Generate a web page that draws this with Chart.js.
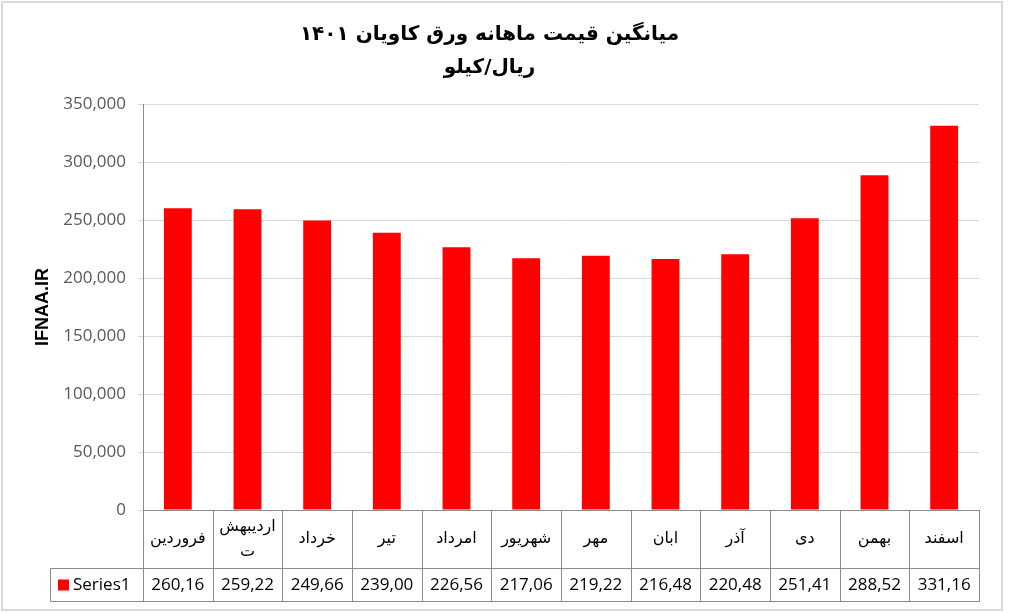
<!DOCTYPE html>
<html lang="fa">
<head>
  <meta charset="UTF-8" />
  <title>میانگین قیمت ماهانه ورق کاویان ۱۴۰۱</title>
  <style>
    html, body { margin: 0; padding: 0; background: #fff; }
    #priceChart { display: block; }
  </style>
  <script src="https://cdn.jsdelivr.net/npm/chart.js"></script>
</head>
<body>
  <canvas id="priceChart" width="1010" height="614"></canvas>

  <script>
    // ماه‌ها و قیمت (ریال/کیلو)
    const months = ['فروردین', 'اردیبهشت', 'خرداد', 'تیر', 'امرداد', 'شهریور', 'مهر', 'ابان', 'آذر', 'دی', 'بهمن', 'اسفند'];
    const prices = [260160, 259220, 249660, 239000, 226560, 217060, 219220, 216480, 220480, 251410, 288520, 331160];
    const seriesName = 'Series1';
    const yMax = 350000;
    const yStep = 50000;

    const fmt = v => Number(v).toLocaleString('en-US');
    // the data table cell is too narrow, so Excel cut the last digit off
    const cellText = v => fmt(v).slice(0, 6);

    const frame = {
      id: 'frame',
      beforeDraw(chart) {
        const ctx = chart.ctx;
        ctx.save();
        ctx.fillStyle = '#fff';
        ctx.fillRect(0, 0, chart.width, chart.height);
        ctx.strokeStyle = '#d9d9d9';
        ctx.lineWidth = 2;
        ctx.strokeRect(2, 2, 1000, 608);
        ctx.restore();
      }
    };

    // جدول داده زیر محور افقی
    const dataTable = {
      id: 'dataTable',
      afterDraw(chart) {
        const { ctx, chartArea: area, scales: { x } } = chart;
        const colW = x.width / months.length;
        const top = area.bottom;
        const mid = top + 58;
        const bot = top + 91;
        const headLeft = 50;

        ctx.save();
        ctx.strokeStyle = '#8c8c8c';
        ctx.lineWidth = 1;
        const line = (x1, y1, x2, y2) => {
          ctx.beginPath();
          ctx.moveTo(Math.round(x1) + 0.5, Math.round(y1) + 0.5);
          ctx.lineTo(Math.round(x2) + 0.5, Math.round(y2) + 0.5);
          ctx.stroke();
        };
        line(headLeft, mid, area.right, mid);
        line(headLeft, bot, area.right, bot);
        line(headLeft, mid, headLeft, bot);
        months.forEach((m, i) => {
          const c = x.getPixelForValue(i);
          line(c - colW / 2, top, c - colW / 2, bot);
        });
        line(area.right, top, area.right, bot);

        ctx.fillStyle = '#000';
        ctx.textAlign = 'center';
        ctx.textBaseline = 'middle';

        // category names, wrapped by letter like Excel does
        ctx.font = '16px "DejaVu Sans"';
        months.forEach((m, i) => {
          const c = x.getPixelForValue(i);
          const lines = [];
          let cur = '';
          for (const ch of m) {
            if (cur && ctx.measureText(cur + ch).width > colW - 8) {
              lines.push(cur);
              cur = ch;
            } else {
              cur += ch;
            }
          }
          lines.push(cur);
          const lh = 25;
          const y0 = (top + mid) / 2 - (lines.length - 1) * lh / 2;
          lines.forEach((t, k) => ctx.fillText(t, c, y0 + k * lh));
        });

        // values row
        ctx.font = '17px "Open Sans"';
        const rowY = (mid + bot) / 2 + 1;
        prices.forEach((v, i) => {
          ctx.fillText(cellText(v), x.getPixelForValue(i), rowY);
        });

        // series key
        ctx.fillStyle = chart.data.datasets[0].backgroundColor;
        ctx.fillRect(58, rowY - 6, 11, 11);
        ctx.fillStyle = '#000';
        ctx.textAlign = 'left';
        ctx.fillText(seriesName, 73, rowY);
        ctx.restore();
      }
    };

    new Chart(document.getElementById('priceChart'), {
      type: 'bar',
      data: {
        labels: months,
        datasets: [{
          label: seriesName,
          data: prices,
          backgroundColor: '#ff0000',
          barPercentage: 0.4,
          categoryPercentage: 1
        }]
      },
      options: {
        responsive: false,
        animation: false,
        layout: { padding: { top: 0, right: 31, bottom: 104, left: 0 } },
        plugins: {
          legend: { display: false },
          tooltip: { enabled: false },
          title: {
            display: true,
            text: ['میانگین قیمت ماهانه ورق کاویان ۱۴۰۱', 'ریال/کیلو'],
            color: '#000',
            font: { family: '"DejaVu Sans"', size: 20, weight: 'bold', lineHeight: 1.65 },
            padding: { top: 18, bottom: 20 }
          }
        },
        scales: {
          x: {
            ticks: { display: false },
            grid: { display: false, drawTicks: false },
            border: { color: '#8c8c8c' }
          },
          y: {
            min: 0,
            max: yMax,
            afterFit(scale) { scale.width = 143; },
            ticks: {
              stepSize: yStep,
              padding: 12,
              color: '#595959',
              font: { family: '"Open Sans"', size: 17 },
              callback: v => fmt(v)
            },
            grid: { color: '#d9d9d9', tickLength: 5 },
            border: { color: '#8c8c8c' },
            title: {
              display: true,
              text: 'IFNAA.IR',
              color: '#000',
              font: { family: '"Liberation Sans"', size: 18, weight: 'bold' },
              padding: { top: 32, bottom: 0 }
            }
          }
        }
      },
      plugins: [frame, dataTable]
    });
  </script>
</body>
</html>
